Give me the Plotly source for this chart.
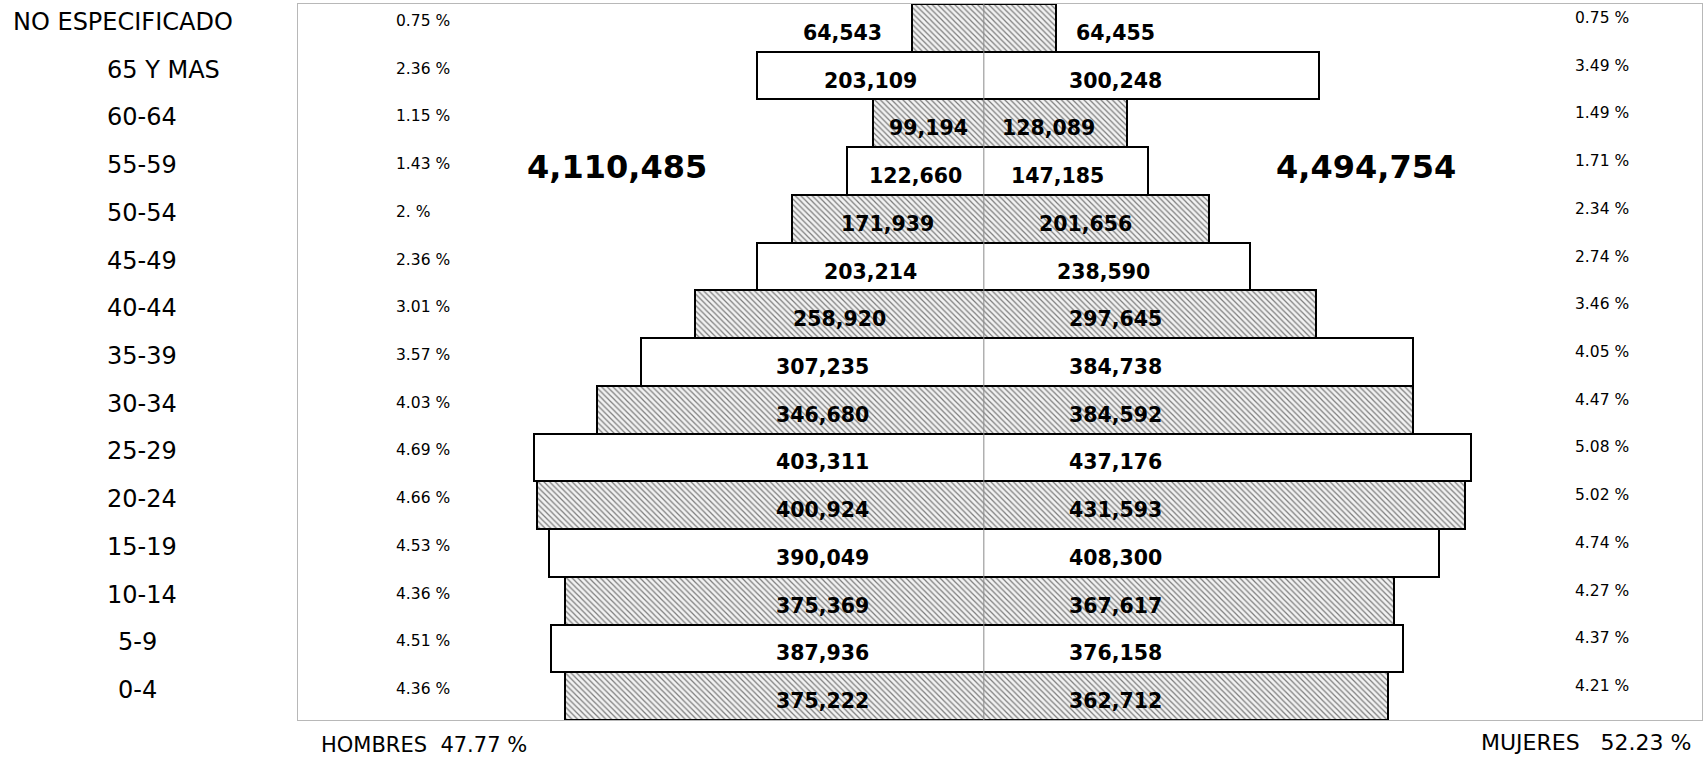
import plotly.graph_objects as go

# ---------------- data ----------------
age_groups = ["NO ESPECIFICADO", "65 Y MAS", "60-64", "55-59", "50-54", "45-49", "40-44",
              "35-39", "30-34", "25-29", "20-24", "15-19", "10-14", "5-9", "0-4"]
hombres = [64543, 203109, 99194, 122660, 171939, 203214, 258920,
           307235, 346680, 403311, 400924, 390049, 375369, 387936, 375222]
mujeres = [64455, 300248, 128089, 147185, 201656, 238590, 297645,
           384738, 384592, 437176, 431593, 408300, 367617, 376158, 362712]
pct_hombres = ["0.75 %", "2.36 %", "1.15 %", "1.43 %", "2. %", "2.36 %", "3.01 %",
               "3.57 %", "4.03 %", "4.69 %", "4.66 %", "4.53 %", "4.36 %", "4.51 %", "4.36 %"]
pct_mujeres = ["0.75 %", "3.49 %", "1.49 %", "1.71 %", "2.34 %", "2.74 %", "3.46 %",
               "4.05 %", "4.47 %", "5.08 %", "5.02 %", "4.74 %", "4.27 %", "4.37 %", "4.21 %"]
hatched = [True, False, True, False, True, False, True, False,
           True, False, True, False, True, False, True]
total_hombres = "4,110,485"
total_mujeres = "4,494,754"
total_row = "55-59"
pie_hombres = "HOMBRES\u00a0\u00a047.77 %"
pie_mujeres = "MUJERES\u00a0\u00a0\u00a052.23 %"

# ---------------- geometry / style ----------------
W, H = 1705, 761
ML, MR, MT, MB = 298, 3, 4, 41
X_RANGE = [-615000, 644000]
CAP_L, CAP_R = 145000, 118500          # farthest label offset from the centre line
SMALL_L, SMALL_R = 127000, 118500      # label offset when the bar is too short
FIT = 85000
FONT = "DejaVu Sans"

fig = go.Figure()

# one outlined bar per row spanning from -hombres to +mujeres
fig.add_trace(go.Bar(
    y=age_groups,
    x=[h + m for h, m in zip(hombres, mujeres)],
    base=[-h for h in hombres],
    orientation="h",
    marker=dict(
        color="white",
        line=dict(color="black", width=2),
        pattern=dict(shape=["\\" if s else "" for s in hatched],
                     fgcolor="#7c7c7c", bgcolor="#f2f2f2",
                     size=4, solidity=0.3, fillmode="replace"),
    ),
    hoverinfo="skip",
    showlegend=False,
))


def pos_left(v):
    return -(SMALL_L if v < FIT else min(v / 2, CAP_L))


def pos_right(v):
    return SMALL_R if v < FIT else min(v * 0.45, CAP_R)


ann = []
for i, g in enumerate(age_groups):
    shift = -287 if g == "NO ESPECIFICADO" else (-182 if g in ("5-9", "0-4") else -193)
    ann.append(dict(x=0, xref="paper", y=g, yref="y", text=g, showarrow=False,
                    xanchor="left", xshift=shift, yshift=6,
                    font=dict(family=FONT, size=24, color="black")))
    ann.append(dict(x=0, xref="paper", y=g, yref="y", text=pct_hombres[i], showarrow=False,
                    xanchor="left", xshift=96, yshift=7,
                    font=dict(family=FONT, size=15.5, color="black")))
    ann.append(dict(x=0, xref="paper", y=g, yref="y", text=pct_mujeres[i], showarrow=False,
                    xanchor="left", xshift=1275, yshift=10,
                    font=dict(family=FONT, size=15.5, color="black")))
    ann.append(dict(x=pos_left(hombres[i]), xref="x", y=g, yref="y",
                    text=f"{hombres[i]:,}", showarrow=False, yshift=-5,
                    font=dict(family=FONT, size=20.5, color="black", weight="bold")))
    ann.append(dict(x=pos_right(mujeres[i]), xref="x", y=g, yref="y",
                    text=f"{mujeres[i]:,}", showarrow=False, yshift=-5,
                    font=dict(family=FONT, size=20.5, color="black", weight="bold")))

ann.append(dict(x=-329000, xref="x", y=total_row, yref="y", text=total_hombres,
                showarrow=False, yshift=4,
                font=dict(family=FONT, size=32, color="black", weight="bold")))
ann.append(dict(x=342700, xref="x", y=total_row, yref="y", text=total_mujeres,
                showarrow=False, yshift=4,
                font=dict(family=FONT, size=32, color="black", weight="bold")))
ann.append(dict(x=0, xref="paper", y=0, yref="paper", text=pie_hombres, showarrow=False,
                xanchor="left", yanchor="middle", xshift=21, yshift=-25,
                font=dict(family=FONT, size=21, color="black")))
ann.append(dict(x=1, xref="paper", y=0, yref="paper", text=pie_mujeres, showarrow=False,
                xanchor="right", yanchor="middle", xshift=-9, yshift=-22,
                font=dict(family=FONT, size=22, color="black")))

fig.update_layout(
    width=W, height=H,
    margin=dict(l=ML, r=MR, t=MT, b=MB),
    paper_bgcolor="white", plot_bgcolor="white",
    bargap=0, barmode="overlay",
    annotations=ann,
    shapes=[dict(type="line", xref="x", yref="paper", x0=0, x1=0, y0=0, y1=1,
                 line=dict(color="#8a8a8a", width=1), layer="above")],
    xaxis=dict(range=X_RANGE, showticklabels=False, ticks="", showgrid=False,
               zeroline=False, showline=True, mirror=True, linecolor="#b8b8b8", linewidth=1,
               fixedrange=True),
    yaxis=dict(categoryorder="array", categoryarray=age_groups, autorange=False,
               range=[len(age_groups) - 0.5, -0.5],
               showticklabels=False, ticks="", showgrid=False, zeroline=False,
               showline=True, mirror=True, linecolor="#b8b8b8", linewidth=1,
               fixedrange=True),
    showlegend=False,
)

fig.write_html("out.html", config={"displayModeBar": False})
